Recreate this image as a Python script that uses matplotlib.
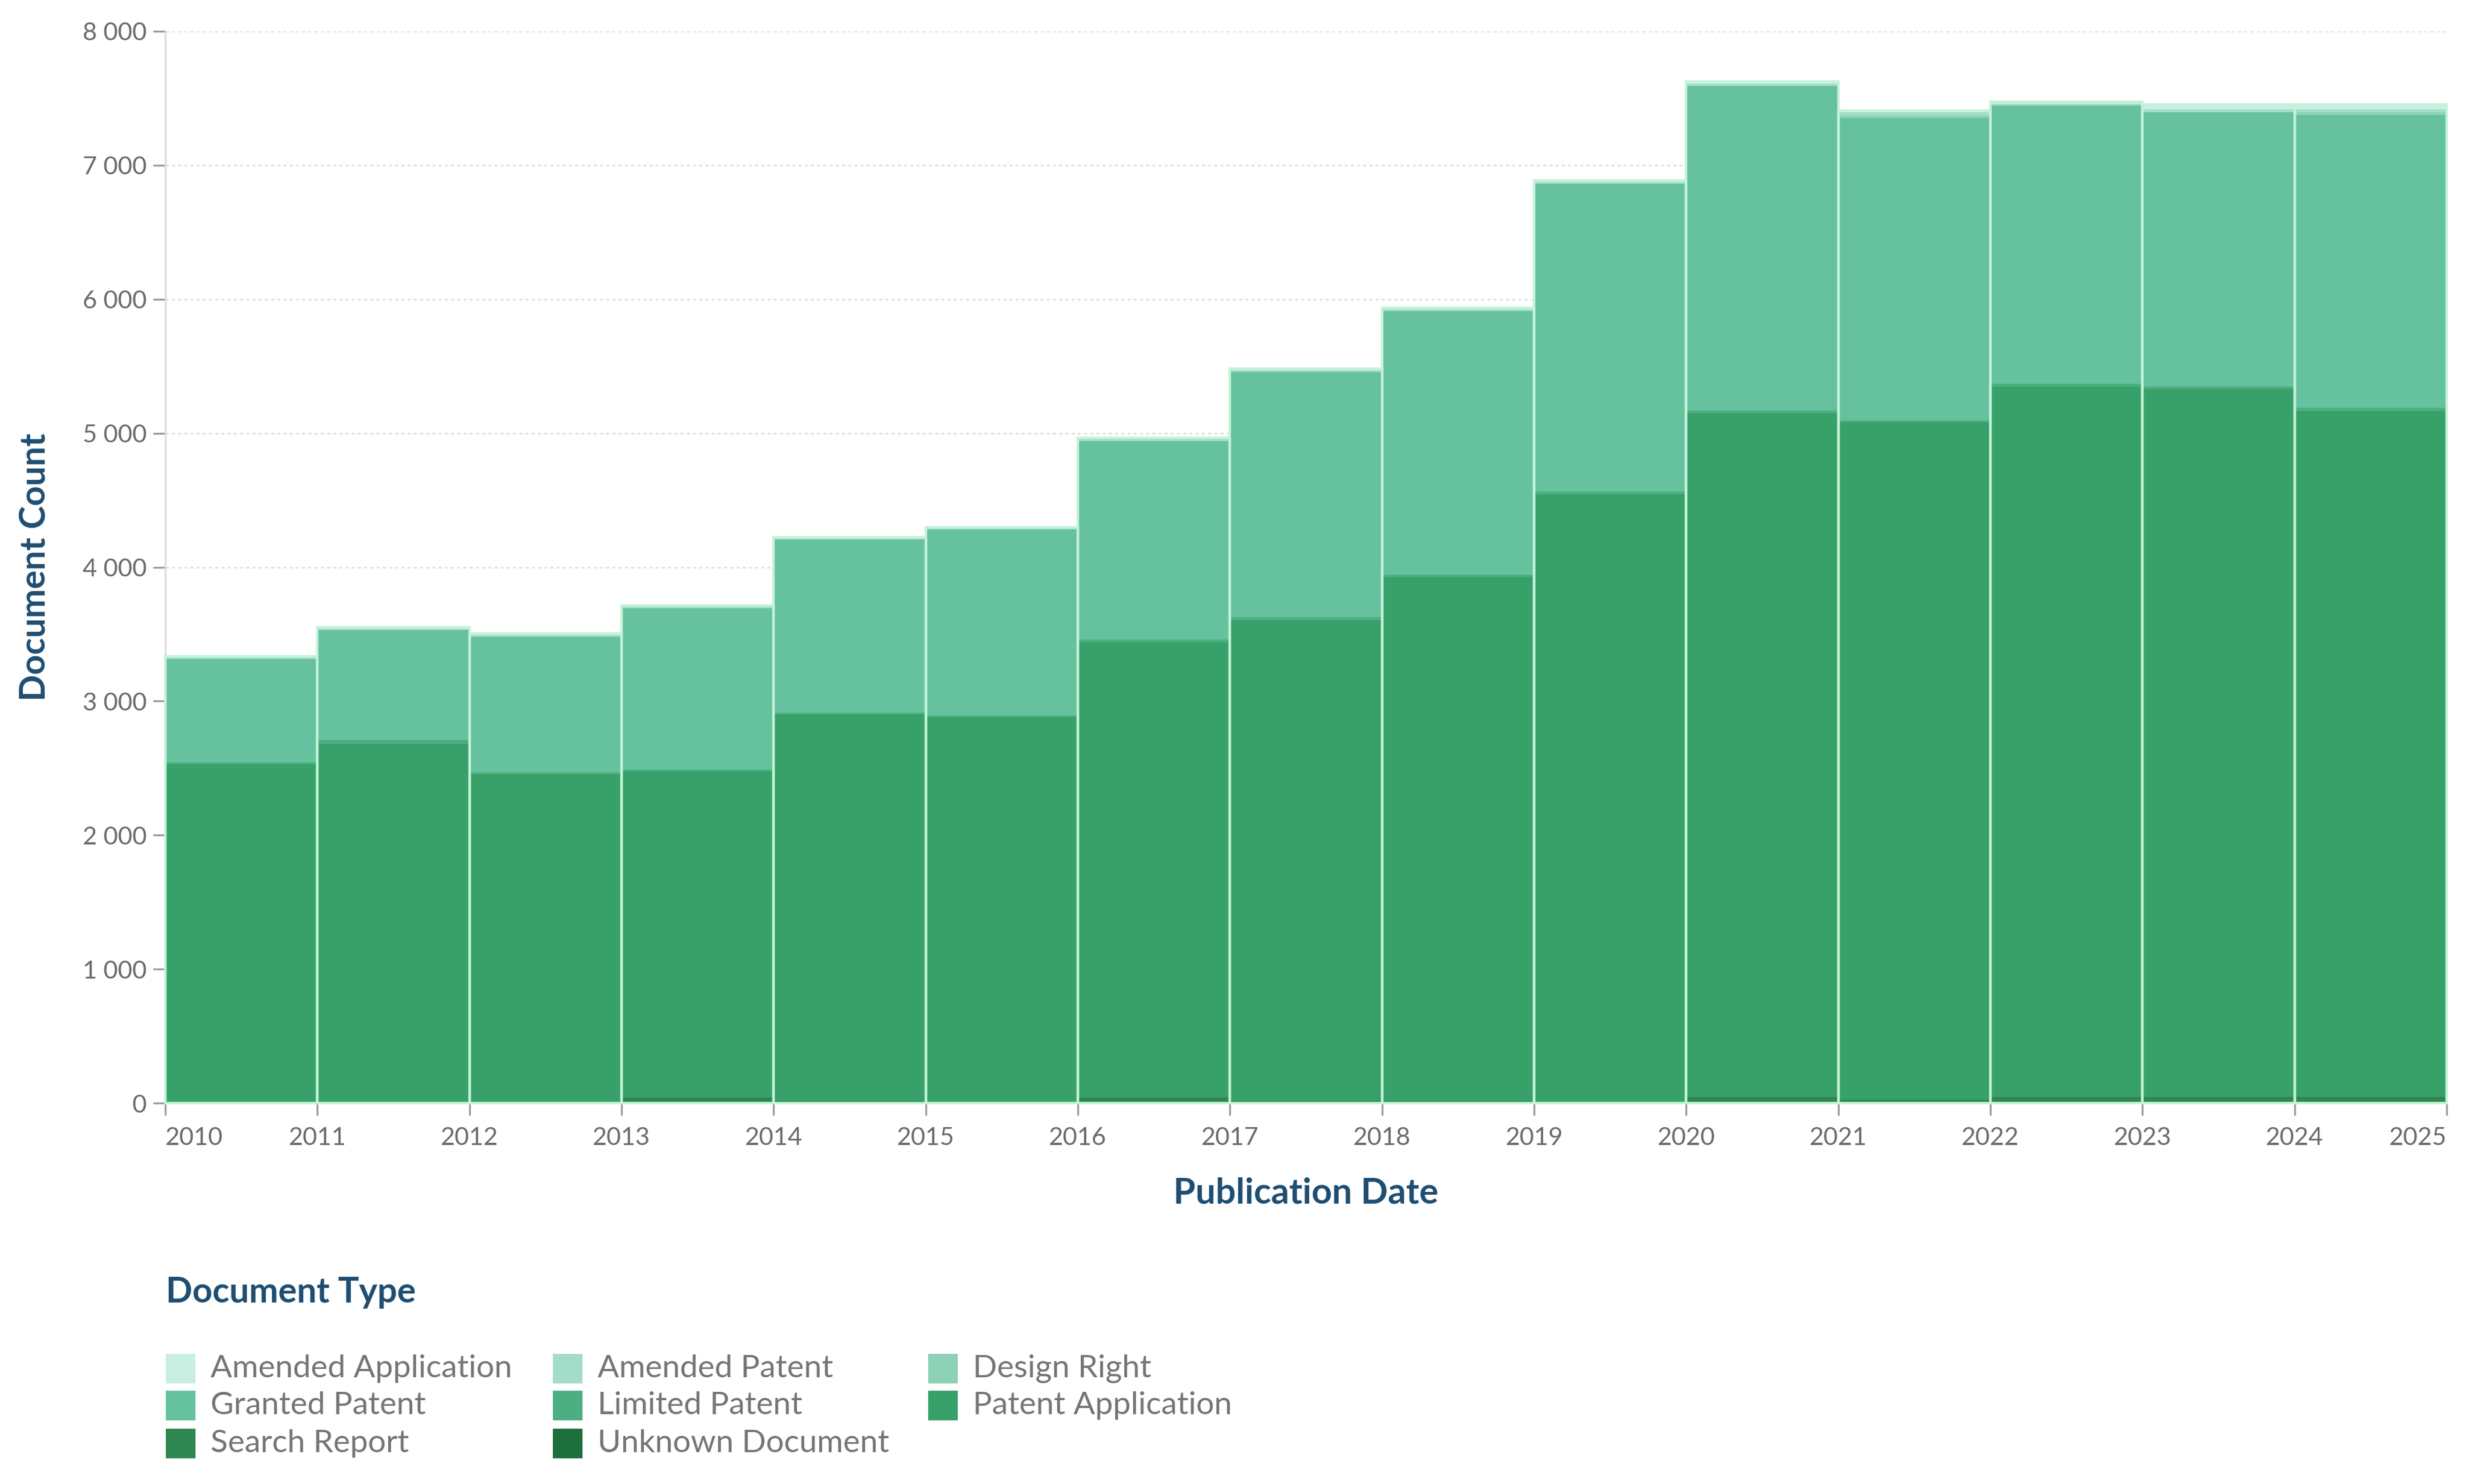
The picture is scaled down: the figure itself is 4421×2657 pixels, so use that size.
import matplotlib.pyplot as plt
import numpy as np
from matplotlib.patches import Rectangle

plt.rcParams["font.family"] = ["Lato", "DejaVu Sans"]

# yearly bins, left edges
years = list(range(2010, 2025))
tick_years = list(range(2010, 2026))

# document counts per type
unknown_document = [0, 0, 0, 5, 0, 0, 5, 0, 0, 0, 5, 0, 5, 5, 5]
search_report = [10, 10, 10, 35, 15, 10, 35, 15, 15, 10, 40, 25, 40, 40, 40]
patent_application = [2520, 2670, 2445, 2435, 2885, 2870, 3400, 3590, 3910, 4535,
                      5105, 5055, 5305, 5285, 5120]
limited_patent = [15, 30, 15, 15, 15, 15, 20, 20, 20, 20, 20, 15, 20, 20, 25]
granted_patent = [770, 820, 1010, 1205, 1290, 1385, 1480, 1830, 1965, 2295,
                  2420, 2260, 2075, 2045, 2185]
design_right = [0, 0, 0, 0, 0, 0, 0, 0, 0, 0, 0, 15, 0, 0, 20]
amended_patent = [10, 10, 15, 10, 10, 10, 15, 15, 15, 15, 20, 25, 15, 20, 20]
amended_application = [10, 10, 10, 10, 10, 10, 10, 10, 10, 10, 15, 15, 15, 40, 40]

legend_labels = ["Amended Application", "Amended Patent", "Design Right",
                 "Granted Patent", "Limited Patent", "Patent Application",
                 "Search Report", "Unknown Document"]

colors = {
    "Amended Application": "#c8efe1",
    "Amended Patent": "#a3dcc8",
    "Design Right": "#8dd2b8",
    "Granted Patent": "#66c19e",
    "Limited Patent": "#4caf82",
    "Patent Application": "#38a169",
    "Search Report": "#2e8650",
    "Unknown Document": "#1d6f3c",
}

# bottom to top
stack = [
    ("Unknown Document", unknown_document),
    ("Search Report", search_report),
    ("Patent Application", patent_application),
    ("Limited Patent", limited_patent),
    ("Granted Patent", granted_patent),
    ("Design Right", design_right),
    ("Amended Patent", amended_patent),
    ("Amended Application", amended_application),
]

title_color = "#1f4e73"
tick_color = "#6b6b6b"
mint = "#c3f3d8"

W, H = 4421, 2657
fig = plt.figure(figsize=(W / 200, H / 200), dpi=200)
ax = fig.add_axes([296 / W, 1 - 1975 / H, 4085 / W, 1919 / H])

bottom = np.zeros(len(years))
for name, vals in stack:
    ax.bar(years, vals, width=1, align="edge", bottom=bottom,
           color=colors[name], linewidth=0, zorder=2)
    bottom += np.array(vals)

# outline of each year's bar
ax.bar(years, bottom, width=1, align="edge", fill=False, edgecolor=mint,
       linewidth=1.6, zorder=3, clip_on=False)

ax.set_xlim(2010, 2025)
ax.set_ylim(0, 8000)
ax.set_yticks(range(0, 8001, 1000))
ax.set_yticklabels([f"{v:,}".replace(",", " ") for v in range(0, 8001, 1000)])
ax.set_xticks(tick_years)
ax.set_xticklabels([str(y) for y in tick_years])

ax.grid(axis="y", color="#dedede", linestyle=(0, (2, 2)), linewidth=1.0, zorder=0)
ax.set_axisbelow(True)

for s in ["top", "right", "bottom"]:
    ax.spines[s].set_visible(False)
ax.spines["left"].set_color("#dcdcdc")
ax.spines["left"].set_linewidth(1.2)

ax.tick_params(axis="both", colors="#9a9a9a", labelcolor=tick_color,
               labelsize=16, width=1.2)
ax.tick_params(axis="y", length=8, pad=4)
ax.tick_params(axis="x", length=8, pad=7)

xl = ax.get_xticklabels()
xl[0].set_horizontalalignment("left")
xl[-1].set_horizontalalignment("right")

ax.set_xlabel("Publication Date", fontsize=23, fontweight="bold",
              color=title_color, labelpad=18)
ax.set_ylabel("Document Count", fontsize=22.5, fontweight="bold",
              color=title_color, labelpad=20)

# legend, three columns, row-major
fig.text(297 / W, 1 - 2314 / H, "Document Type", fontsize=22.5,
         fontweight="bold", color=title_color, va="center", ha="left")
col_x = [297, 990, 1662]
row_y = [2450, 2516, 2584]
sw = 53
for i, name in enumerate(legend_labels):
    cx = col_x[i % 3]
    cy = row_y[i // 3]
    fig.add_artist(Rectangle((cx / W, 1 - (cy + sw / 2) / H), sw / W, sw / H,
                             transform=fig.transFigure, facecolor=colors[name],
                             edgecolor="none"))
    fig.text((cx + 80) / W, 1 - cy / H, name, fontsize=20.5, color="#757575",
             va="center", ha="left")

fig.savefig("out.png", dpi=200, facecolor="white")
